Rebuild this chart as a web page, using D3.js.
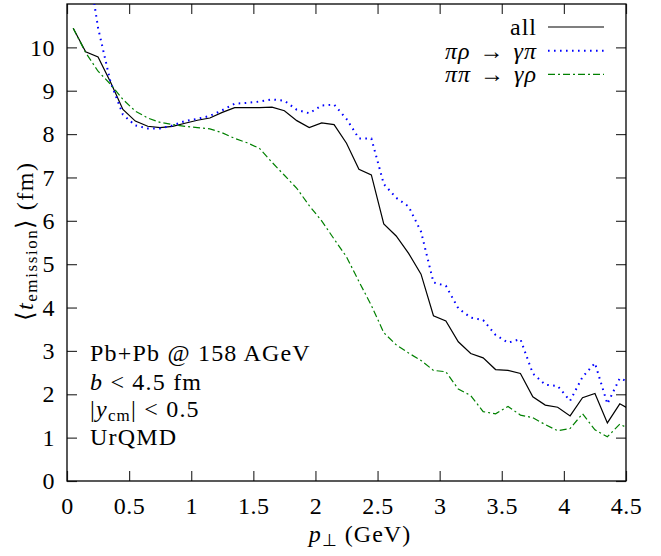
<!DOCTYPE html>
<html>
<head>
<meta charset="utf-8">
<script src="https://cdn.jsdelivr.net/npm/d3@7"></script>
<style>
  body { margin: 0; background: #fff; }
  svg text { font-family: 'Liberation Serif', 'Times New Roman', serif; fill: #000; }
</style>
</head>
<body>
<div id="chart"></div>
<script>
// p_T bin centres (GeV)
const pT = [0.05, 0.15, 0.25, 0.35, 0.45, 0.55, 0.65, 0.75, 0.85, 0.95,
  1.05, 1.15, 1.25, 1.35, 1.45, 1.55, 1.65, 1.75, 1.85, 1.95,
  2.05, 2.15, 2.25, 2.35, 2.45, 2.55, 2.65, 2.75, 2.85, 2.95,
  3.05, 3.15, 3.25, 3.35, 3.45, 3.55, 3.65, 3.75, 3.85, 3.95,
  4.05, 4.15, 4.25, 4.35, 4.45, 4.55];

// <t_emission> (fm), all channels
const allVals = [10.44, 9.9, 9.78, 9.2, 8.57, 8.3, 8.18, 8.15, 8.18, 8.25,
  8.32, 8.37, 8.5, 8.61, 8.61, 8.61, 8.62, 8.54, 8.31, 8.15,
  8.26, 8.22, 7.79, 7.19, 7.06, 5.93, 5.65, 5.25, 4.77, 3.81,
  3.69, 3.21, 2.94, 2.84, 2.57, 2.55, 2.48, 1.94, 1.75, 1.70,
  1.50, 1.92, 2.02, 1.34, 1.78, 1.62];

// pi rho -> gamma pi
const piRhoVals = [15.0, 12.3, 10.45, 9.2, 8.45, 8.2, 8.13, 8.13, 8.2, 8.3,
  8.35, 8.42, 8.55, 8.7, 8.72, 8.75, 8.8, 8.77, 8.56, 8.48,
  8.66, 8.68, 8.35, 7.9, 7.9, 6.85, 6.53, 6.33, 5.75, 4.58,
  4.5, 3.98, 3.77, 3.71, 3.37, 3.19, 3.27, 2.48, 2.22, 2.19,
  1.85, 2.4, 2.72, 1.78, 2.37, 2.25];

// pi pi -> gamma rho
const piPiVals = [10.44, 9.88, 9.45, 9.15, 8.8, 8.53, 8.37, 8.27, 8.22, 8.18,
  8.15, 8.12, 8.03, 7.9, 7.8, 7.67, 7.35, 7.05, 6.75, 6.35,
  6.0, 5.58, 5.17, 4.6, 4.05, 3.42, 3.14, 2.95, 2.78, 2.55,
  2.52, 2.12, 1.97, 1.6, 1.55, 1.72, 1.52, 1.46, 1.3, 1.16,
  1.21, 1.55, 1.18, 1.02, 1.31, 1.17];

const xTicks = [0, 0.5, 1, 1.5, 2, 2.5, 3, 3.5, 4, 4.5];
const yTicks = [0, 1, 2, 3, 4, 5, 6, 7, 8, 9, 10];

const serif = "'Liberation Serif', 'Times New Roman', serif";

const config = {
  width: 661,
  height: 556,
  margin: { top: 4, right: 35, bottom: 75, left: 67 },
  tickLen: 10,
  fontSize: 24,
  subSize: 17
};
const plotW = config.width - config.margin.left - config.margin.right;
const plotH = config.height - config.margin.top - config.margin.bottom;

const svg = d3.select('#chart').append('svg')
  .attr('width', config.width)
  .attr('height', config.height)
  .attr('font-family', serif);

const g = svg.append('g')
  .attr('transform', `translate(${config.margin.left}, ${config.margin.top})`);

const xScale = d3.scaleLinear().domain([0, 4.5]).range([0, plotW]);
const yScale = d3.scaleLinear().domain([0, 11]).range([plotH, 0]);

// axes, ticks pointing inwards on all four sides
g.append('g')
  .attr('transform', `translate(0, ${plotH})`)
  .call(d3.axisBottom(xScale).tickValues(xTicks).tickSizeInner(-config.tickLen).tickSizeOuter(0).tickPadding(16).tickFormat(d3.format('~g')));
g.append('g')
  .call(d3.axisTop(xScale).tickValues(xTicks).tickSizeInner(-config.tickLen).tickSizeOuter(0).tickFormat(''));
g.append('g')
  .call(d3.axisLeft(yScale).tickValues(yTicks).tickSizeInner(-config.tickLen).tickSizeOuter(0).tickPadding(12).tickFormat(d3.format('d')));
g.append('g')
  .attr('transform', `translate(${plotW}, 0)`)
  .call(d3.axisRight(yScale).tickValues(yTicks).tickSizeInner(-config.tickLen).tickSizeOuter(0).tickFormat(''));

g.selectAll('.domain').remove();
g.selectAll('.tick line').attr('stroke', '#333').attr('stroke-width', 1.2);
g.selectAll('.tick text')
  .attr('font-family', serif)
  .style('font-family', serif)
  .style('font-size', config.fontSize + 'px')
  .style('letter-spacing', '0.5px')
  .attr('fill', '#000');

// frame
g.append('rect')
  .attr('width', plotW)
  .attr('height', plotH)
  .attr('fill', 'none')
  .attr('stroke', '#000')
  .attr('stroke-width', 1.3);

g.append('clipPath').attr('id', 'plotClip')
  .append('rect').attr('width', plotW).attr('height', plotH);

const series = [
  { name: 'all', values: allVals, color: '#000', dash: null, width: 1.2 },
  { name: 'pirho', values: piRhoVals, color: '#0000ff', dash: '1.6,4.4', width: 2 },
  { name: 'pipi', values: piPiVals, color: '#008000', dash: '7,3,2,3', width: 1.2 }
];

const line = d3.line()
  .x(d => xScale(d[0]))
  .y(d => yScale(d[1]));

const curves = g.append('g').attr('clip-path', 'url(#plotClip)');
series.forEach(s => {
  curves.append('path')
    .datum(pT.map((p, i) => [p, s.values[i]]))
    .attr('d', line)
    .attr('fill', 'none')
    .attr('stroke', s.color)
    .attr('stroke-width', s.width)
    .attr('stroke-dasharray', s.dash);
});

// legend
const legend = svg.append('g');
const legendRows = [
  { parts: [['all', 'normal']] },
  { parts: [['π', 'italic'], ['ρ', 'italic'], [' → ', 'normal'], ['γ', 'italic'], ['π', 'italic']] },
  { parts: [['π', 'italic'], ['π', 'italic'], [' → ', 'normal'], ['γ', 'italic'], ['ρ', 'italic']] }
];
legendRows.forEach((row, i) => {
  const y = 27 + i * 23.7;
  const t = legend.append('text')
    .attr('x', 537)
    .attr('y', y + 8)
    .attr('text-anchor', 'end')
    .style('font-size', config.fontSize + 'px')
    .style('letter-spacing', '1px')
    .style('word-spacing', '2px');
  row.parts.forEach(p => t.append('tspan').attr('font-style', p[1]).text(p[0]));
  legend.append('line')
    .attr('x1', 548).attr('x2', 604)
    .attr('y1', y).attr('y2', y)
    .attr('stroke', series[i].color)
    .attr('stroke-width', series[i].width)
    .attr('stroke-dasharray', series[i].dash);
});

// annotation
const notes = svg.append('g')
  .style('font-size', config.fontSize + 'px')
  .style('letter-spacing', '1.2px');
notes.append('text').attr('x', 90).attr('y', 361).text('Pb+Pb @ 158 AGeV');
const n2 = notes.append('text').attr('x', 90).attr('y', 390);
n2.append('tspan').attr('font-style', 'italic').text('b');
n2.append('tspan').text(' < 4.5 fm');
const n3 = notes.append('text').attr('x', 90).attr('y', 417);
n3.append('tspan').text('|');
n3.append('tspan').attr('font-style', 'italic').text('y');
n3.append('tspan').attr('font-size', config.subSize + 'px').attr('dy', 4).text('cm');
n3.append('tspan').attr('dy', -4).text('| < 0.5');
notes.append('text').attr('x', 90).attr('y', 445).text('UrQMD');

// axis titles
const xt = svg.append('text')
  .attr('x', 360).attr('y', 542)
  .attr('text-anchor', 'middle')
  .style('font-size', config.fontSize + 'px')
  .style('letter-spacing', '1px');
xt.append('tspan').attr('font-style', 'italic').text('p');
xt.append('tspan').attr('font-size', config.subSize + 'px').attr('dy', 4).text('⊥');
xt.append('tspan').attr('dy', -4).text('  (GeV)');

const yt = svg.append('text')
  .attr('transform', 'translate(33, 241) rotate(-90)')
  .attr('text-anchor', 'middle')
  .style('font-size', config.fontSize + 'px')
  .style('letter-spacing', '1.6px');
yt.append('tspan').text('⟨');
yt.append('tspan').attr('font-style', 'italic').text('t');
yt.append('tspan').attr('font-size', config.subSize + 'px').attr('dy', 4).text('emission');
yt.append('tspan').attr('dy', -4).text('⟩ (fm)');
</script>
</body>
</html>
